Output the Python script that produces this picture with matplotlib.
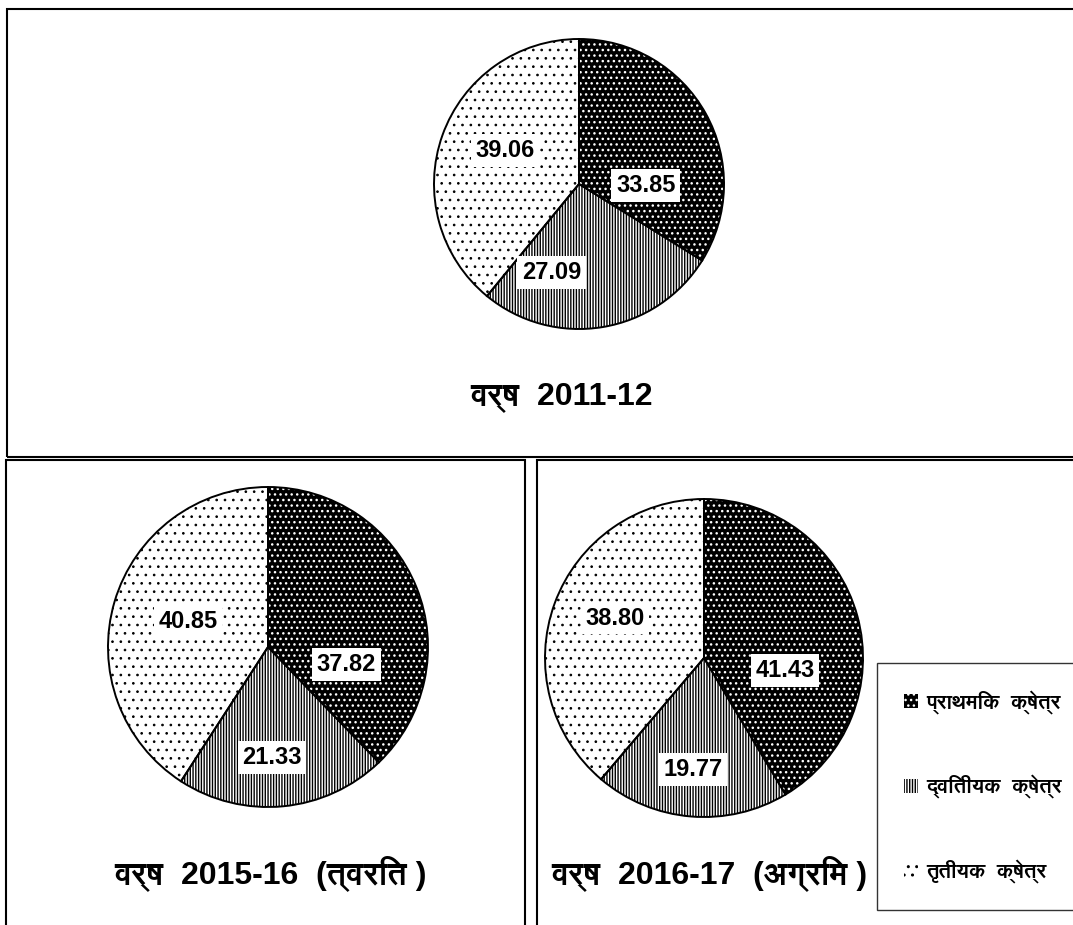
import numpy as np
import matplotlib
matplotlib.use('Agg')
import matplotlib.pyplot as plt
from matplotlib.patches import Rectangle, Patch
from matplotlib import font_manager as fm

# ---------------- data ----------------
sectors = ['प्राथमिक  क्षेत्र', 'द्वितीयक  क्षेत्र', 'तृतीयक  क्षेत्र']
share_2011_12 = [33.85, 27.09, 39.06]
share_2015_16 = [37.82, 21.33, 40.85]
share_2016_17 = [41.43, 19.77, 38.80]
titles = ['वर्ष  2011-12', 'वर्ष  2015-16  (त्वरित )', 'वर्ष  2016-17  (अग्रिम )']

# ---------------- fonts ----------------
deva_family = None
try:
    from fontTools.ttLib import TTFont
    for fe in fm.fontManager.ttflist:
        try:
            tt = TTFont(fe.fname, fontNumber=0, lazy=True)
            cmap = tt.getBestCmap()
            if cmap and 0x0915 in cmap and 0x094D in cmap:
                deva_family = fe.name
                if fe.weight in ('bold', 700) or 'Bold' in fe.fname:
                    break
        except Exception:
            pass
except Exception:
    pass

latin = 'Liberation Sans'
fams = [latin] + ([deva_family] if deva_family else []) + ['DejaVu Sans']
deva_fams = ([deva_family] if deva_family else []) + [latin, 'DejaVu Sans']

W, H = 1073, 925
fig = plt.figure(figsize=(W / 100, H / 100), dpi=100)
fig.patch.set_facecolor('white')

def fx(x):
    return x / W

def fy(y):
    return 1 - y / H

# ---------------- panel frames ----------------
frame_kw = dict(transform=fig.transFigure, fill=False, edgecolor='black', linewidth=1.5)
fig.add_artist(Rectangle((fx(7), fy(457)), fx(1100) - fx(7), fy(9) - fy(457), **frame_kw))
fig.add_artist(Rectangle((fx(6), fy(960)), fx(525) - fx(6), fy(460) - fy(960), **frame_kw))
fig.add_artist(Rectangle((fx(537), fy(960)), fx(1100) - fx(537), fy(460) - fy(960), **frame_kw))

# ---------------- pies ----------------
plt.rcParams['hatch.linewidth'] = 1.0
face_colors = ['black', 'white', 'white']
hatch_colors = ['white', 'black', 'black']
hatches = ['...', '||||||', '..']
hatch_lw = [1.0, 1.0, 0.7]

panels = [
    dict(vals=share_2011_12, c=(579, 184, 145), title=titles[0], tpos=(561, 397), tsize=23,
         lab=[(0.46, -0.01), (-0.19, -0.61), (-0.51, 0.23)]),
    dict(vals=share_2015_16, c=(268, 647, 160), title=titles[1], tpos=(270, 873), tsize=23,
         lab=[(0.49, -0.11), (0.025, -0.69), (-0.50, 0.16)]),
    dict(vals=share_2016_17, c=(704, 658, 159), title=titles[2], tpos=(709, 873), tsize=23,
         lab=[(0.51, -0.08), (-0.07, -0.70), (-0.56, 0.25)]),
]

for p in panels:
    cx, cy, r = p['c']
    ax = fig.add_axes([fx(cx - r), fy(cy + r), 2 * r / W, 2 * r / H])
    wedges, _ = ax.pie(p['vals'], startangle=90, counterclock=False, radius=1,
                       colors=face_colors, wedgeprops=dict(linewidth=0))
    for w, hc, h, hl in zip(wedges, hatch_colors, hatches, hatch_lw):
        w.set_edgecolor(hc)
        w.set_hatch(h)
        w.set_linewidth(0)
        if hasattr(w, 'set_hatch_linewidth'):
            w.set_hatch_linewidth(hl)
    outl, _ = ax.pie(p['vals'], startangle=90, counterclock=False, radius=1,
                     colors=['none'] * 3,
                     wedgeprops=dict(linewidth=1.4, edgecolor='black', facecolor='none'))
    for w in list(wedges) + list(outl):
        w.set_clip_on(False)
    for v, (dx, dy) in zip(p['vals'], p['lab']):
        ax.text(dx, dy, f'{v:.2f}', ha='center', va='center', fontsize=17,
                fontweight='bold', family=latin, color='black',
                bbox=dict(boxstyle='square,pad=0.2', facecolor='white', edgecolor='none'))
    ax.set_xlim(-1, 1)
    ax.set_ylim(-1, 1)
    ax.set_aspect('equal')
    ax.axis('off')
    fig.text(fx(p['tpos'][0]), fy(p['tpos'][1]), p['title'], ha='center', va='center',
             fontsize=p['tsize'], fontweight='bold', family=fams)

# ---------------- legend ----------------
handles = [Patch(facecolor=fc, edgecolor=hc, hatch=h, linewidth=0)
           for fc, hc, h in zip(face_colors, hatch_colors, hatches)]
leg = fig.legend(handles, sectors, loc='upper left',
                 bbox_to_anchor=(fx(877), fy(913), fx(1110) - fx(877), fy(663) - fy(913)),
                 mode='expand', frameon=True, fancybox=False, shadow=False,
                 handlelength=0.65, handleheight=0.65, handletextpad=0.4,
                 labelspacing=2.9, borderpad=1.3, borderaxespad=0,
                 prop=dict(family=deva_fams, weight='bold', size=15))
leg.get_frame().set_edgecolor('black')
leg.get_frame().set_linewidth(1.0)

fig.savefig('out.png', dpi=100, facecolor='white')
